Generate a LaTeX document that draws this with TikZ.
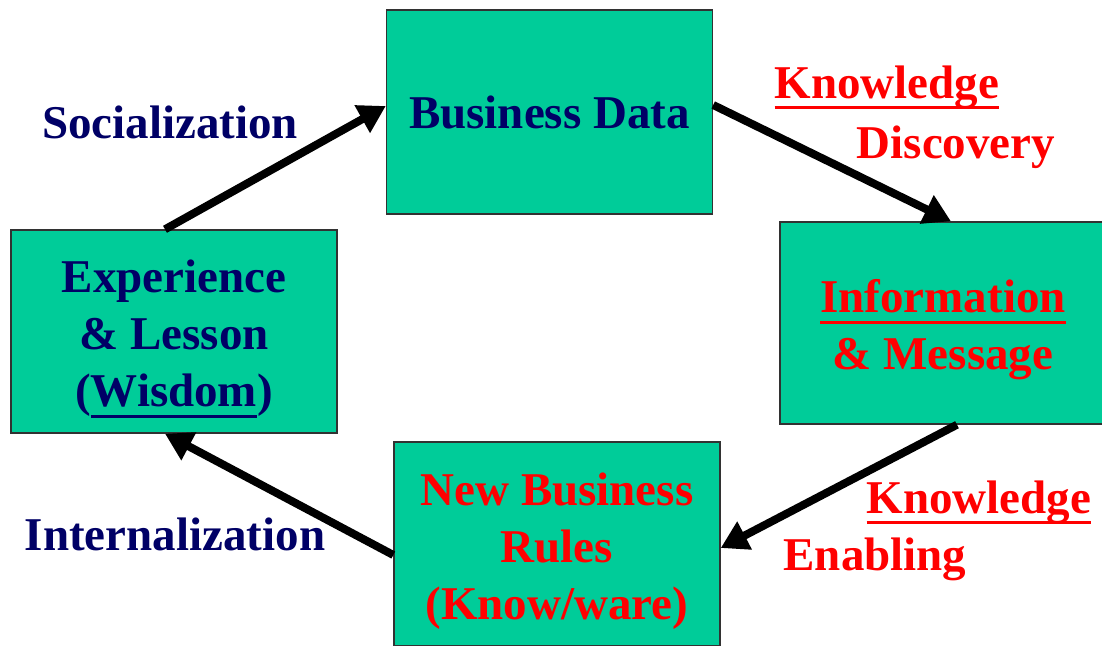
\documentclass[tikz,border=0pt]{standalone}
\usepackage{fontspec}
\setmainfont{Liberation Serif}
\usetikzlibrary{arrows.meta}

\definecolor{boxfill}{RGB}{0,204,153}
\definecolor{navy}{RGB}{0,0,102}
\definecolor{hotred}{RGB}{255,0,0}
\definecolor{edge}{RGB}{50,50,50}

% underline drawn as a rule below the baseline, in the current colour
\newsavebox\ulinebox
\newcommand\ulined[1]{\leavevmode\sbox\ulinebox{#1}%
  \rlap{\rule[-11pt]{\wd\ulinebox}{2.6pt}}\usebox\ulinebox}
% stacked lines of a stage box, set a little low in the box
\newcommand\stagetext[1]{\raisebox{-7pt}[\height][\depth]{%
  \begin{tabular}{@{}c@{}}#1\end{tabular}}}

\begin{document}
\begin{tikzpicture}[x=1pt,y=-1pt,
  every node/.style={font=\bfseries\fontsize{47}{57}\selectfont},
  stagebox/.style={draw=edge, line width=1.4pt, fill=boxfill,
    minimum width=326pt, minimum height=204pt, align=center,
    inner sep=0pt},
  flowarrow/.style={line width=8pt,
    -{Triangle[length=27pt,width=30pt]}},
  navylabel/.style={text=navy, anchor=base, inner sep=0pt},
  redlabel/.style={text=hotred, anchor=base, inner sep=0pt}]

\useasboundingbox (0,0) rectangle (1102,645);

% the four stages of the cycle
\node[stagebox, text=navy] (bd) at (549.5,112) {Business Data};
\node[stagebox, text=hotred, minimum width=326pt, minimum height=202pt]
  (info) at (943,323) {\stagetext{\ulined{Information}\\\& Message}};
\node[stagebox, text=hotred] (nbr) at (557,544)
  {\stagetext{New Business\\Rules\\(Know/ware)}};
\node[stagebox, text=navy, minimum height=203pt] (exp) at (174,331.5)
  {\stagetext{Experience\\\& Lesson\\(\ulined{Wisdom})}};

% transitions between stages
\draw[flowarrow] ([xshift=-9pt]exp.north) -- ([yshift=6pt]bd.west);
\draw[flowarrow] ([yshift=7pt]bd.east) -- ([xshift=8pt]info.north);
\draw[flowarrow] ([xshift=14pt]info.south) -- ([yshift=-4pt]nbr.east);
\draw[flowarrow] ([yshift=-11pt]nbr.west) -- ([xshift=-9pt]exp.south);

% transition labels
\node[navylabel] (soc) at (170,138) {Socialization};
\node[redlabel] (kd1) at (887,98) {\ulined{Knowledge}};
\node[redlabel] (kd2) at (956,158) {Discovery};
\node[redlabel] (ke1) at (979,513) {\ulined{Knowledge}};
\node[redlabel] (ke2) at (875,570) {Enabling};
\node[navylabel] (int) at (175,550) {Internalization};

\end{tikzpicture}
\end{document}
